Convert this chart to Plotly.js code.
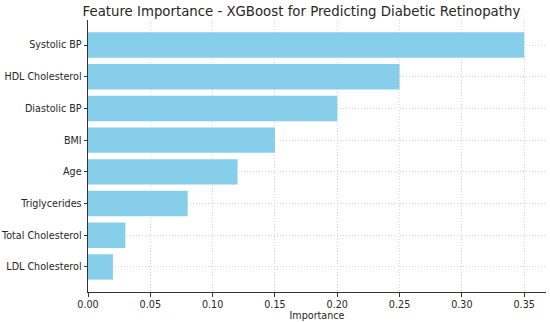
<!DOCTYPE html>
<html>
<head>
<meta charset="utf-8">
<script src="https://cdn.plot.ly/plotly-3.0.1.min.js"></script>
<style>html,body{margin:0;padding:0;background:#fff;}#chart{width:550px;height:322px;}</style>
</head>
<body>
<div id="chart"></div>
<script>
const features = ["Systolic BP", "HDL Cholesterol", "Diastolic BP", "BMI", "Age", "Triglycerides", "Total Cholesterol", "LDL Cholesterol"];
const importance = [0.35, 0.25, 0.20, 0.15, 0.12, 0.08, 0.03, 0.02];
const xTicks = [0, 0.05, 0.10, 0.15, 0.20, 0.25, 0.30, 0.35];
const xTickLabels = ["0.00", "0.05", "0.10", "0.15", "0.20", "0.25", "0.30", "0.35"];

const font = {family: "DejaVu Sans, sans-serif", size: 9.6, color: "#262626"};

Plotly.newPlot("chart", [{
  type: "bar",
  orientation: "h",
  y: features,
  x: importance,
  width: 0.8,
  marker: {color: "#87CEEB"},
  hoverinfo: "x+y"
}], {
  width: 550, height: 322,
  margin: {l: 88, r: 4, t: 20, b: 30, pad: 0},
  paper_bgcolor: "#fff", plot_bgcolor: "#fff",
  font: font,
  showlegend: false,
  title: {text: "Feature Importance - XGBoost for Predicting Diabetic Retinopathy",
          font: {family: "DejaVu Sans, sans-serif", size: 13.3, color: "#262626"},
          xref: "container", x: 0.548, xanchor: "center", yref: "container", y: 0.966, yanchor: "middle"},
  xaxis: {
    range: [0, 0.3675], tickvals: xTicks, ticktext: xTickLabels,
    showgrid: true, gridcolor: "#d6d6d6", griddash: "1px,2px", gridwidth: 1,
    zeroline: false, showline: true, linecolor: "#333", linewidth: 1,
    ticks: "outside", ticklen: 3.5, tickcolor: "#333",
    tickfont: font,
    title: {text: "Importance", font: font, standoff: 0}
  },
  yaxis: {
    type: "category", categoryorder: "array", categoryarray: features,
    range: [7.79, -0.79],
    showgrid: true, gridcolor: "#d6d6d6", griddash: "1px,2px", gridwidth: 1,
    zeroline: false, showline: true, linecolor: "#333", linewidth: 1,
    ticks: "outside", ticklen: 3.5, tickcolor: "#333",
    tickfont: font
  },
  bargap: 0.2
}, {displayModeBar: false, staticPlot: true});
</script>
</body>
</html>
